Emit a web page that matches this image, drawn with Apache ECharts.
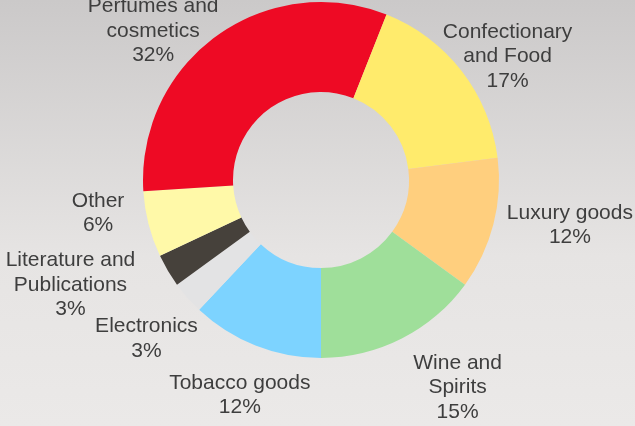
<!DOCTYPE html>
<html>
<head>
<meta charset="utf-8">
<script src="https://cdn.jsdelivr.net/npm/echarts@6/dist/echarts.min.js"></script>
<style>
  html, body { margin: 0; padding: 0; }
  #chart { width: 635px; height: 426px; }
</style>
</head>
<body>
<div id="chart"></div>
<script>
// Sales mix by category, listed clockwise starting from the bottom of the ring
const categories = [
  'Tobacco goods',
  'Electronics',
  'Literature and\nPublications',
  'Other',
  'Perfumes and\ncosmetics',
  'Confectionary\nand Food',
  'Luxury goods',
  'Wine and\nSpirits'
];
const shares = [12, 3, 3, 6, 32, 17, 12, 15];

const sliceColors = ['#7dd3ff', '#e3e3e4', '#46413b', '#fff9a8', '#ee0a24', '#ffeb6c', '#ffcf7e', '#9fdf9a'];
// small per-label nudges so each caption sits clear of the ring
const labelNudge = [[7, 5], [0, 9], [-51, -10], [1, -23], [-30, 34], [3, 15], [25, -11], [29, 6]];

const chart = echarts.init(document.getElementById('chart'), null, { renderer: 'canvas' });

chart.setOption({
  animation: false,
  backgroundColor: new echarts.graphic.LinearGradient(0, 0, 0, 1, [
    { offset: 0, color: '#cbc9c9' },
    { offset: 0.6, color: '#e6e4e3' },
    { offset: 1, color: '#ebe9e8' }
  ]),
  series: [{
    type: 'pie',
    center: [321, 180],
    radius: [88, 178],
    startAngle: 270,
    clockwise: true,
    avoidLabelOverlap: false,
    silent: true,
    itemStyle: { borderWidth: 0 },
    label: {
      show: true,
      position: 'outside',
      formatter: p => p.name + '\n' + p.value + '%',
      fontFamily: 'Liberation Sans, Arial, sans-serif',
      fontSize: 21,
      lineHeight: 24.5,
      color: '#3e3e3e'
    },
    labelLine: { show: false, length: 48, length2: 0 },
    labelLayout: params => ({
      align: 'center',
      verticalAlign: 'middle',
      dx: labelNudge[params.dataIndex][0],
      dy: labelNudge[params.dataIndex][1]
    }),
    data: categories.map((name, i) => ({
      name: name,
      value: shares[i],
      itemStyle: { color: sliceColors[i] }
    }))
  }]
});
</script>
</body>
</html>
